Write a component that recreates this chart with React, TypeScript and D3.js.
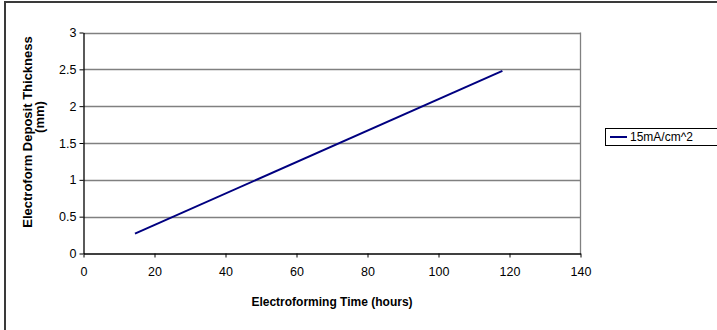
import React, { useRef, useEffect } from 'react';
import * as d3 from 'd3';

const seriesName = '15mA/cm^2';
const timeHours = [14.5, 118];
const thickness = [0.27, 2.48];
const xTicks = [0, 20, 40, 60, 80, 100, 120, 140];
const yTicks = [0, 0.5, 1, 1.5, 2, 2.5, 3];

const App = () => {
  const svgRef = useRef<SVGSVGElement>(null);

  useEffect(() => {
    const W = 717;
    const H = 330;
    const plot = { left: 83.5, right: 580.5, top: 32.5, bottom: 253.5 };

    const svg = d3.select(svgRef.current);
    svg.selectAll('*').remove();
    svg.attr('width', W).attr('height', H);

    // outer chart border
    svg.append('rect')
      .attr('x', 5).attr('y', 2)
      .attr('width', W + 10).attr('height', H + 10)
      .attr('fill', '#fff')
      .attr('stroke', '#3a3a3a')
      .attr('stroke-width', 2);

    const x = d3.scaleLinear().domain([0, 140]).range([plot.left, plot.right]);
    const y = d3.scaleLinear().domain([0, 3]).range([plot.bottom, plot.top]);

    // gridlines
    svg.append('g')
      .selectAll('line')
      .data(yTicks.filter((d) => d > 0))
      .enter()
      .append('line')
      .attr('x1', plot.left).attr('x2', plot.right)
      .attr('y1', (d) => Math.round(y(d)) + 0.5)
      .attr('y2', (d) => Math.round(y(d)) + 0.5)
      .attr('stroke', '#808080')
      .attr('stroke-width', 1.3);

    // right border
    svg.append('line')
      .attr('x1', plot.right).attr('x2', plot.right)
      .attr('y1', plot.top).attr('y2', plot.bottom)
      .attr('stroke', '#808080')
      .attr('stroke-width', 1.3);

    const font = '"Liberation Sans", Arial, sans-serif';

    const yAxis = svg.append('g')
      .attr('transform', `translate(${plot.left},0)`)
      .call(d3.axisLeft(y).tickValues(yTicks).tickFormat(d3.format('')).tickSize(4).tickSizeOuter(0).tickPadding(3));
    yAxis.select('.domain').attr('stroke', '#000').attr('stroke-width', 1.3);
    yAxis.selectAll('.tick line').attr('stroke', '#000');
    yAxis.selectAll('text').attr('font-family', font).attr('font-size', 12.5).attr('fill', '#000');

    const xAxis = svg.append('g')
      .attr('transform', `translate(0,${plot.bottom})`)
      .call(d3.axisBottom(x).tickValues(xTicks).tickSize(4).tickSizeOuter(0).tickPadding(10));
    xAxis.select('.domain').attr('stroke', '#000').attr('stroke-width', 1.3);
    xAxis.selectAll('.tick line').attr('stroke', '#000');
    xAxis.selectAll('text').attr('font-family', font).attr('font-size', 12.5).attr('fill', '#000');

    // series line
    const pts = timeHours.map((t, i) => [t, thickness[i]] as [number, number]);
    svg.append('path')
      .datum(pts)
      .attr('fill', 'none')
      .attr('stroke', '#000080')
      .attr('stroke-width', 2)
      .attr('d', d3.line<[number, number]>().x((d) => x(d[0])).y((d) => y(d[1])));

    // axis titles
    svg.append('text')
      .attr('x', (plot.left + plot.right) / 2)
      .attr('y', 306)
      .attr('text-anchor', 'middle')
      .attr('font-family', font)
      .attr('font-size', 12)
      .attr('font-weight', 'bold')
      .text('Electroforming Time (hours)');

    const yt = svg.append('text')
      .attr('transform', 'translate(32,132) rotate(-90)')
      .attr('text-anchor', 'middle')
      .attr('font-family', font)
      .attr('font-size', 13)
      .attr('font-weight', 'bold');
    yt.append('tspan').attr('x', 0).attr('y', 0).text('Electroform Deposit Thickness');
    yt.append('tspan').attr('x', 15).attr('y', 12).text('(mm)');

    // legend
    const lg = svg.append('g');
    lg.append('rect')
      .attr('x', 605.5).attr('y', 128.5)
      .attr('width', 130).attr('height', 17)
      .attr('fill', '#fff')
      .attr('stroke', '#000')
      .attr('stroke-width', 1);
    lg.append('line')
      .attr('x1', 610).attr('x2', 627)
      .attr('y1', 137).attr('y2', 137)
      .attr('stroke', '#000080')
      .attr('stroke-width', 2);
    lg.append('text')
      .attr('x', 630).attr('y', 141)
      .attr('font-family', font)
      .attr('font-size', 12)
      .text(seriesName);
  }, []);

  return <svg ref={svgRef} style={{ position: 'absolute', left: 0, top: 0 }}></svg>;
};

export default App;
